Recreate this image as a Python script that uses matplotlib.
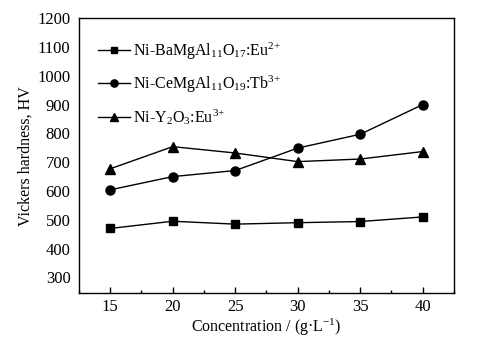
import matplotlib
matplotlib.use("Agg")
import matplotlib.pyplot as plt
from matplotlib.ticker import MultipleLocator

plt.rcParams['font.family'] = ['Liberation Serif', 'DejaVu Serif']
plt.rcParams['mathtext.fontset'] = 'custom'
plt.rcParams['mathtext.rm'] = 'Liberation Serif'
plt.rcParams['mathtext.it'] = 'Liberation Serif'

concentration = [15, 20, 25, 30, 35, 40]
bam_eu = [470, 495, 485, 490, 494, 510]
cemgal_tb = [604, 650, 671, 749, 797, 900]
y2o3_eu = [677, 754, 732, 702, 711, 737]

labels = [
    r'Ni-BaMgAl$_{11}$O$_{17}$:Eu$^{2{+}}$',
    r'Ni-CeMgAl$_{11}$O$_{19}$:Tb$^{3{+}}$',
    r'Ni-Y$_2$O$_3$:Eu$^{3{+}}$',
]

fig = plt.figure(figsize=(4.84, 3.43), dpi=100)
ax = fig.add_axes([0.163, 0.145, 0.775, 0.802])

ax.plot(concentration, bam_eu, '-s', color='black', lw=1.0, ms=5.5, label=labels[0])
ax.plot(concentration, cemgal_tb, '-o', color='black', lw=1.0, ms=6.5, label=labels[1])
ax.plot(concentration, y2o3_eu, '-^', color='black', lw=1.0, ms=7, label=labels[2])

ax.set_xlim(12.5, 42.5)
ax.set_ylim(245, 1200)
ax.set_xticks(concentration)
ax.xaxis.set_minor_locator(MultipleLocator(2.5))
ax.set_yticks(range(300, 1201, 100))
ax.tick_params(axis='x', which='major', direction='in', length=4, width=1, labelsize=12, pad=4)
ax.tick_params(axis='x', which='minor', direction='in', length=2.5, width=1)
ax.tick_params(axis='y', which='both', length=0, labelsize=12, pad=6)
for s in ax.spines.values():
    s.set_linewidth(1.0)

ax.set_xlabel('Concentration / (g·L$^{-1}$)', fontsize=11.5, labelpad=1)
ax.set_ylabel('Vickers hardness, HV', fontsize=11.5, labelpad=3)

ax.legend(loc='upper left', bbox_to_anchor=(0.02, 0.96), frameon=False,
          fontsize=11.5, handlelength=2.0, handletextpad=0.2, labelspacing=0.75,
          borderaxespad=0.3, markerscale=0.8)

fig.savefig('out.png', dpi=100)
